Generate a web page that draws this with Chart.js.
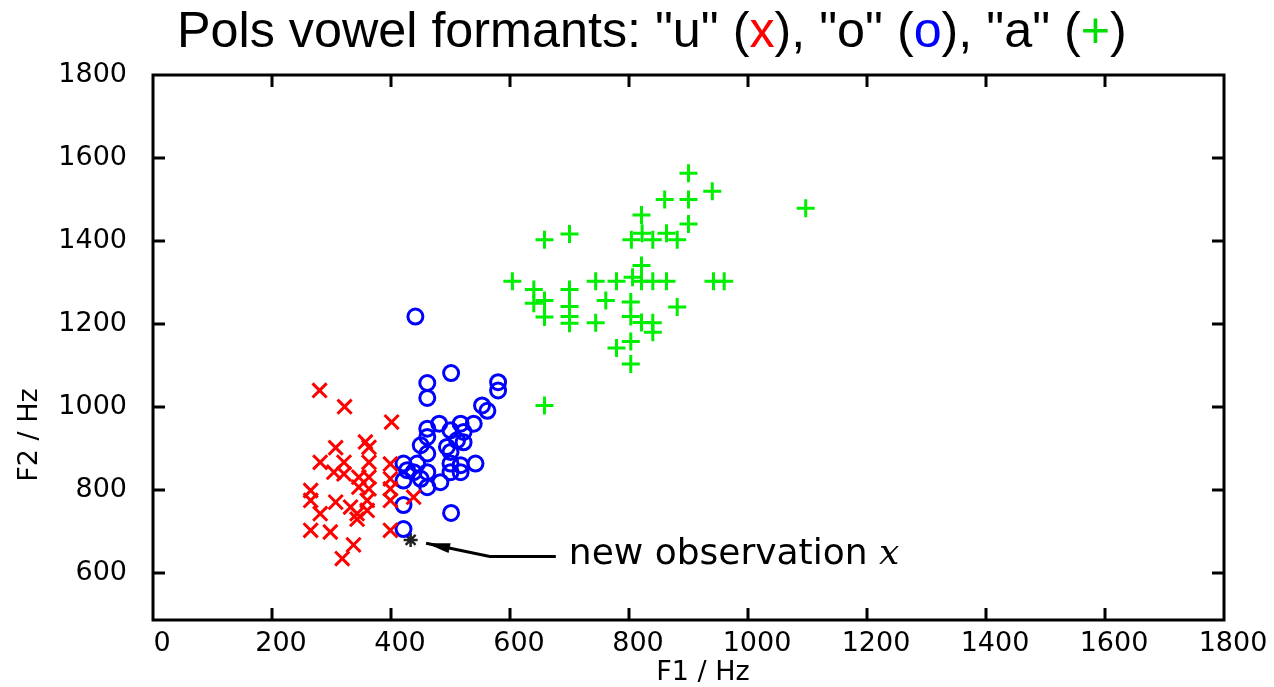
<!DOCTYPE html>
<html>
<head>
<meta charset="utf-8">
<script src="https://cdn.jsdelivr.net/npm/chart.js@4.4.1/dist/chart.umd.min.js"></script>
<style>
  body { margin: 0; background: #fff; }
  #wrap { width: 1274px; height: 687px; }
</style>
</head>
<body>
<div id="wrap"><canvas id="myChart" width="1274" height="687"></canvas></div>
<script>
// F1 / F2 formant values (Hz)
var uVowel = [
  [280,1040],[322,1001],[401,964],[307,902],[363,903],[357,916],[281,867],[321,867],
  [363,867],[399,863],[304,843],[321,839],[346,831],[363,831],[399,827],[265,799],
  [346,807],[363,803],[399,803],[265,775],[307,771],[360,775],[399,775],[332,759],
  [281,743],[343,743],[360,751],[343,730],[265,703],[298,699],[399,703],[337,668],
  [318,635],[438,783]
];
var oVowel = [
  [441,1218],[501,1082],[461,1058],[461,1022],[580,1060],[580,1040],[553,1004],[562,991],
  [481,960],[517,960],[539,960],[461,948],[500,944],[522,940],[461,928],[511,920],
  [450,908],[494,904],[522,915],[461,888],[500,892],[421,864],[444,864],[500,864],
  [517,860],[542,864],[438,843],[461,843],[500,843],[517,843],[421,823],[450,827],
  [483,819],[461,807],[427,848],[421,764],[501,745],[421,706]
];
var aVowel = [
  [900,1563],[940,1520],[860,1500],[900,1500],[821,1463],[900,1441],[1097,1479],[658,1403],
  [700,1417],[804,1403],[822,1419],[840,1403],[863,1419],[881,1403],[821,1341],[604,1303],
  [744,1303],[779,1303],[806,1313],[821,1303],[840,1303],[863,1303],[942,1303],[960,1303],
  [640,1283],[640,1250],[658,1257],[658,1217],[700,1283],[700,1242],[700,1218],[700,1202],
  [744,1203],[761,1257],[803,1253],[803,1218],[821,1204],[840,1203],[840,1180],[881,1241],
  [779,1142],[803,1158],[803,1104],[658,1004]
];
var newObs = [[433,680]];
var arrowPath = [[677,640],[566,640],[459,672]];

var xTicks = [0,200,400,600,800,1000,1200,1400,1600,1800];
var yTicks = [600,800,1000,1200,1400,1600,1800];

function pts(arr) {
  return arr.map(function (p) { return {x: p[0], y: p[1]}; });
}

// frame, inward tick marks, titles and the note
var decorations = {
  id: 'decorations',
  afterDraw: function (chart) {
    var ctx = chart.ctx, a = chart.chartArea;
    var xs = chart.scales.x, ys = chart.scales.y;
    ctx.save();
    ctx.strokeStyle = '#000';
    ctx.lineWidth = 3;
    ctx.strokeRect(a.left, a.top, a.right - a.left, a.bottom - a.top);
    var L = 12;
    ctx.beginPath();
    xTicks.forEach(function (v) {
      var px = xs.getPixelForValue(v);
      if (px <= a.left + 2 || px >= a.right - 2) return;
      ctx.moveTo(px, a.bottom); ctx.lineTo(px, a.bottom - L);
      ctx.moveTo(px, a.top); ctx.lineTo(px, a.top + L);
    });
    yTicks.forEach(function (v) {
      var py = ys.getPixelForValue(v);
      if (py <= a.top + 2 || py >= a.bottom - 2) return;
      ctx.moveTo(a.left, py); ctx.lineTo(a.left + L, py);
      ctx.moveTo(a.right, py); ctx.lineTo(a.right - L, py);
    });
    ctx.stroke();

    // arrow head at the end of the arrow path
    var n = arrowPath.length;
    var tx = xs.getPixelForValue(arrowPath[n-1][0]), ty = ys.getPixelForValue(arrowPath[n-1][1]);
    var fx = xs.getPixelForValue(arrowPath[n-2][0]), fy = ys.getPixelForValue(arrowPath[n-2][1]);
    var ang = Math.atan2(ty - fy, tx - fx);
    ctx.translate(tx, ty);
    ctx.rotate(ang);
    ctx.fillStyle = '#000';
    ctx.beginPath();
    ctx.moveTo(0, 0);
    ctx.lineTo(-24, -5);
    ctx.lineTo(-24, 5);
    ctx.closePath();
    ctx.fill();
    ctx.setTransform(1, 0, 0, 1, 0, 0);

    // title with coloured symbols
    var parts = [
      ['Pols vowel formants: "u" (', '#000'], ['x', '#ff0000'],
      ['), "o" (', '#000'], ['o', '#0000ff'],
      ['), "a" (', '#000'], ['+', '#00dd00'], [')', '#000']
    ];
    var size = 40;
    ctx.font = size + 'px "Liberation Sans", Arial, sans-serif';
    var full = parts.map(function (p) { return p[0]; }).join('');
    size = size * 950 / ctx.measureText(full).width;
    ctx.font = size + 'px "Liberation Sans", Arial, sans-serif';
    ctx.textBaseline = 'alphabetic';
    ctx.textAlign = 'left';
    var cx = 177;
    parts.forEach(function (p) {
      ctx.fillStyle = p[1];
      ctx.fillText(p[0], cx, 47);
      cx += ctx.measureText(p[0]).width;
    });

    // axis titles
    ctx.fillStyle = '#000';
    ctx.font = '27px "DejaVu Sans", sans-serif';
    ctx.textAlign = 'center';
    ctx.textBaseline = 'middle';
    ctx.fillText('F1 / Hz', 703, 673);
    ctx.save();
    ctx.translate(30, 435);
    ctx.rotate(-Math.PI / 2);
    ctx.fillText('F2 / Hz', 0, 0);
    ctx.restore();

    // note next to the arrow
    var nx = xs.getPixelForValue(arrowPath[0][0]) + 13;
    var ny = ys.getPixelForValue(arrowPath[0][1]) + 8;
    ctx.textAlign = 'left';
    ctx.textBaseline = 'alphabetic';
    ctx.font = '36px "DejaVu Sans", sans-serif';
    ctx.fillText('new observation ', nx, ny);
    var w = ctx.measureText('new observation ').width;
    ctx.font = 'italic 36px "DejaVu Serif", serif';
    ctx.fillText('x', nx + w, ny);
    ctx.restore();
  }
};

window.onload = function () {
  const ctx = document.getElementById('myChart');
  const myChart = new Chart(ctx, {
    type: 'scatter',
    data: {
      datasets: [{
        label: 'u',
        data: pts(uVowel),
        pointStyle: 'crossRot',
        pointRadius: 10,
        borderColor: '#ff0000',
        borderWidth: 3
      }, {
        label: 'o',
        data: pts(oVowel),
        pointStyle: 'circle',
        pointRadius: 7.5,
        backgroundColor: 'rgba(0,0,0,0)',
        borderColor: '#0000ff',
        borderWidth: 3
      }, {
        label: 'a',
        data: pts(aVowel),
        pointStyle: 'cross',
        pointRadius: 9,
        borderColor: '#00ee00',
        borderWidth: 3
      }, {
        label: 'new observation',
        data: pts(newObs),
        pointStyle: 'star',
        pointRadius: 7,
        borderColor: '#222',
        borderWidth: 2.5
      }, {
        label: 'arrow',
        data: pts(arrowPath),
        showLine: true,
        pointRadius: 0,
        borderColor: '#000',
        borderWidth: 3
      }]
    },
    options: {
      responsive: false,
      animation: false,
      layout: {padding: {left: 0, right: 50, top: 75, bottom: 0}},
      scales: {
        x: {
          type: 'linear',
          min: 0,
          max: 1800,
          afterBuildTicks: function (s) { s.ticks = xTicks.map(function (v) { return {value: v}; }); },
          afterFit: function (s) { s.height = 67; },
          grid: {display: false},
          border: {display: false},
          ticks: {
            color: '#000',
            padding: 0,
            labelOffset: 9,
            maxRotation: 0,
            font: {family: '"DejaVu Sans", sans-serif', size: 27},
            callback: function (v) { return String(v); }
          }
        },
        y: {
          type: 'linear',
          min: 487,
          max: 1800,
          afterBuildTicks: function (s) { s.ticks = yTicks.map(function (v) { return {value: v}; }); },
          afterFit: function (s) { s.width = 153; },
          grid: {display: false},
          border: {display: false},
          ticks: {
            color: '#000',
            padding: 18,
            font: {family: '"DejaVu Sans", sans-serif', size: 27},
            callback: function (v) { return String(v); }
          }
        }
      },
      plugins: {
        legend: {display: false},
        tooltip: {enabled: false}
      }
    },
    plugins: [decorations]
  });
};
</script>
</body>
</html>
